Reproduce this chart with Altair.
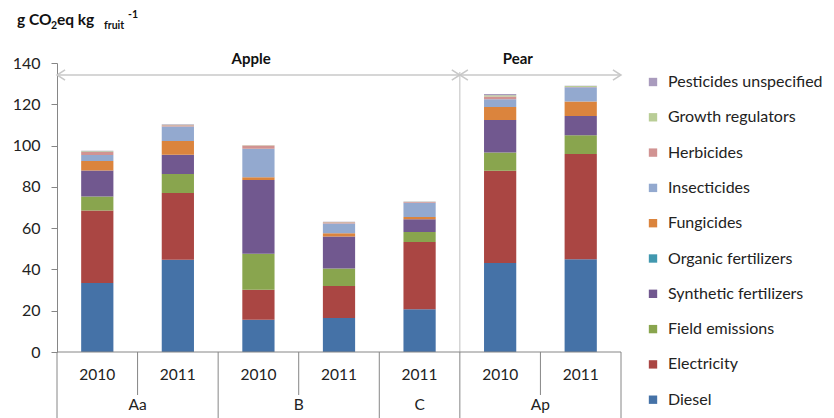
import altair as alt
import pandas as pd

# ---------------- data ----------------
sources = ["Diesel", "Electricity", "Field emissions", "Synthetic fertilizers",
           "Organic fertilizers", "Fungicides", "Insecticides", "Herbicides",
           "Growth regulators", "Pesticides unspecified"]
colors = ["#4572A7", "#AA4643", "#89A54E", "#71588F", "#4198AF",
          "#DB843D", "#93A9CF", "#D19392", "#B9CD96", "#A99BBD"]

years = ["2010", "2011", "2010", "2011", "2011", "2010", "2011"]
farms = ["Aa", "Aa", "B", "B", "C", "Ap", "Ap"]

diesel = [33.4, 44.7, 15.6, 16.5, 20.7, 43.1, 44.9]
electricity = [35.1, 32.3, 14.6, 15.5, 32.6, 44.7, 51.0]
field_emissions = [6.8, 9.2, 17.4, 8.5, 4.8, 8.9, 9.1]
synthetic_fert = [12.6, 9.4, 35.7, 15.4, 6.2, 15.7, 9.3]
organic_fert = [0.0, 0.0, 0.0, 0.0, 0.0, 0.0, 0.0]
fungicides = [4.6, 6.6, 1.3, 1.6, 1.1, 6.3, 7.0]
insecticides = [2.9, 7.0, 13.9, 4.8, 6.9, 3.7, 6.9]
herbicides = [1.5, 0.6, 1.5, 0.6, 0.4, 1.4, 0.2]
growth_reg = [0.3, 0.3, 0.1, 0.1, 0.1, 0.6, 0.4]
pesticides_unsp = [0.3, 0.2, 0.1, 0.1, 0.1, 0.6, 0.2]

series = [diesel, electricity, field_emissions, synthetic_fert, organic_fert,
          fungicides, insecticides, herbicides, growth_reg, pesticides_unsp]

group_names = ["Aa", "B", "C", "Ap"]
group_centers = [0.5, 2.5, 4.0, 5.5]
short_seps = [0.5, 2.5, 5.5]
long_seps = [-0.5, 1.5, 3.5, 4.5, 6.5]

fruit_labels = ["Apple", "Pear"]
fruit_label_x = [1.91, 5.22]
fruit_span_start = [-0.5, 4.5]
fruit_span_end = [4.5, 6.5]

# ---------------- layout ----------------
W, H = 564, 289
FONT = "Lato"
AXIS_GRAY = "#868686"
ARROW_GRAY = "#c8c8c8"
HALF_BAR = 0.2

rows = []
for bi in range(len(years)):
    base = 0.0
    for si, (name, vals) in enumerate(zip(sources, series)):
        v = vals[bi]
        rows.append({"pos": bi, "xa": bi - HALF_BAR, "xb": bi + HALF_BAR,
                     "source": name, "idx": si, "value": v,
                     "y0": base, "y1": base + v})
        base += v
df = pd.DataFrame(rows)

xscale = alt.Scale(domain=[-0.5, 6.5], nice=False, zero=False)
yscale = alt.Scale(domain=[0, 140], nice=False)

bars = alt.Chart(df).mark_bar().encode(
    x=alt.X("xa:Q", scale=xscale, axis=None),
    x2="xb:Q",
    y=alt.Y("y0:Q", scale=yscale,
            axis=alt.Axis(values=[0, 20, 40, 60, 80, 100, 120, 140], grid=False,
                          tickSize=6, domainColor=AXIS_GRAY, tickColor=AXIS_GRAY,
                          labelFont=FONT, labelFontSize=16, labelColor="#222",
                          labelPadding=11, title=None)),
    y2="y1:Q",
    color=alt.Color("source:N",
                    scale=alt.Scale(domain=sources[::-1], range=colors[::-1]),
                    legend=alt.Legend(orient="none", legendX=588, legendY=11,
                                      title=None, symbolType="square", symbolSize=70,
                                      symbolStrokeWidth=0, labelFont=FONT,
                                      labelFontSize=16, labelColor="#222",
                                      rowPadding=19.3, labelOffset=7, padding=0,
                                      labelLimit=220)),
)

baseline = alt.Chart(pd.DataFrame({"a": [-0.5], "b": [6.5]})).mark_rule(color=AXIS_GRAY).encode(
    x=alt.X("a:Q", scale=xscale, axis=None), x2="b:Q", y=alt.value(H)
)

sep_short = alt.Chart(pd.DataFrame({"s": short_seps})).mark_rule(color=AXIS_GRAY).encode(
    x=alt.X("s:Q", scale=xscale, axis=None), y=alt.value(H), y2=alt.value(H + 43)
)
sep_long = alt.Chart(pd.DataFrame({"s": long_seps})).mark_rule(color=AXIS_GRAY).encode(
    x=alt.X("s:Q", scale=xscale, axis=None), y=alt.value(H), y2=alt.value(H + 70)
)

divider = alt.Chart(pd.DataFrame({"s": [4.5]})).mark_rule(color="#bfbfbf").encode(
    x=alt.X("s:Q", scale=xscale, axis=None), y=alt.value(9), y2=alt.value(H)
)

year_df = pd.DataFrame({"pos": list(range(len(years))), "year": years})
year_text = alt.Chart(year_df).mark_text(font=FONT, fontSize=15.5, color="#222",
                                         baseline="middle").encode(
    x=alt.X("pos:Q", scale=xscale, axis=None), y=alt.value(H + 23), text="year:N"
)
group_df = pd.DataFrame({"c": group_centers, "g": group_names})
group_text = alt.Chart(group_df).mark_text(font=FONT, fontSize=15.5, color="#222",
                                           baseline="middle").encode(
    x=alt.X("c:Q", scale=xscale, axis=None), y=alt.value(H + 53), text="g:N"
)

span_df = pd.DataFrame({"a": fruit_span_start, "b": fruit_span_end})
arrow_lines = alt.Chart(span_df).mark_rule(color=ARROW_GRAY, strokeWidth=1.5).encode(
    x=alt.X("a:Q", scale=xscale, axis=None), x2="b:Q", y=alt.value(12)
)
left_heads = alt.Chart(pd.DataFrame({"a": fruit_span_start})).mark_point(
    shape="M 1 -0.65 L 0 0 L 1 0.65", size=260, filled=False,
    color=ARROW_GRAY, strokeWidth=1.5, opacity=1
).encode(x=alt.X("a:Q", scale=xscale, axis=None), y=alt.value(12))
right_heads = alt.Chart(pd.DataFrame({"b": fruit_span_end})).mark_point(
    shape="M -1 -0.65 L 0 0 L -1 0.65", size=260, filled=False,
    color=ARROW_GRAY, strokeWidth=1.5, opacity=1
).encode(x=alt.X("b:Q", scale=xscale, axis=None), y=alt.value(12))

fruit_df = pd.DataFrame({"x": fruit_label_x, "t": fruit_labels})
fruit_text = alt.Chart(fruit_df).mark_text(font=FONT, fontSize=15, fontWeight="bold",
                                           color="#111", baseline="middle").encode(
    x=alt.X("x:Q", scale=xscale, axis=None), y=alt.value(-4), text="t:N"
)

title_txt = ["g CO", "2", "eq kg", "fruit", "-1"]
title_px = [17, 51, 57, 104, 128]
title_py = [25, 29, 25, 29, 18]
title_fs = [15.5, 10.5, 15.5, 10.5, 10.5]
title_layers = [
    alt.Chart(pd.DataFrame({"t": [t]})).mark_text(
        font=FONT, fontWeight="bold", color="#111", align="left",
        baseline="alphabetic", fontSize=fs
    ).encode(x=alt.value(px - 57), y=alt.value(py - 63), text="t:N")
    for t, px, py, fs in zip(title_txt, title_px, title_py, title_fs)
]

chart = alt.layer(
    divider, arrow_lines, left_heads, right_heads, bars, baseline,
    sep_short, sep_long, year_text, group_text, fruit_text, *title_layers
).properties(
    width=W, height=H,
    padding={"left": 49, "top": 55, "right": 205, "bottom": 66},
    autosize=alt.AutoSizeParams(type="none"),
).configure_view(stroke=None)

chart.save("out.html", embed_options={"renderer": "svg", "actions": False})
